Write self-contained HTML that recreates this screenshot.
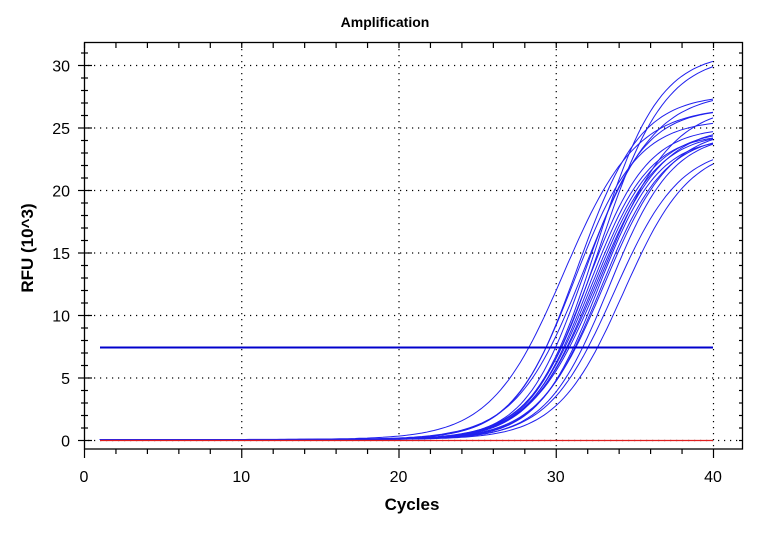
<!DOCTYPE html>
<html><head><meta charset="utf-8"><style>
body{margin:0;background:#fff;width:770px;height:529px;overflow:hidden}
text{font-family:"Liberation Sans",Arial,sans-serif}
</style></head><body>
<svg id="s" width="770" height="529" xmlns="http://www.w3.org/2000/svg">
<rect width="770" height="529" fill="#fff"/>
<text x="385" y="27" text-anchor="middle" font-size="14" font-weight="bold">Amplification</text>
<text x="412" y="510" text-anchor="middle" font-size="17" font-weight="bold">Cycles</text>
<text transform="translate(33,248) rotate(-90)" text-anchor="middle" font-size="17" font-weight="bold">RFU (10^3)</text>
<g id="grid" stroke="#000" stroke-width="1.2" stroke-dasharray="1.2,4.8"></g>
<g id="ticks" stroke="#000" stroke-width="1.2"></g>
<g id="lab" font-size="16"></g>
<g id="curves" fill="none" stroke="#2020ee" stroke-width="1"></g>
<line x1="100" y1="347.5" x2="713" y2="347.5" stroke="#0000cc" stroke-width="2"/>
<line x1="100" y1="440.5" x2="713" y2="440.5" stroke="#e02020" stroke-width="1.2"/>
<rect x="84.5" y="42.5" width="658" height="406.5" fill="none" stroke="#000" stroke-width="1.3"/>
</svg>
<script>
const X=c=>84+c*15.725, Y=v=>440.5-v*12.5;
const ns="http://www.w3.org/2000/svg";
function el(p,t,a,txt){const e=document.createElementNS(ns,t);for(const k in a)e.setAttribute(k,a[k]);if(txt!==undefined)e.textContent=txt;document.getElementById(p).appendChild(e);}
for(let c=10;c<=40;c+=10)el("grid","line",{x1:X(c)+.5,y1:43,x2:X(c)+.5,y2:449});
for(let v=0;v<=30;v+=5)el("grid","line",{x1:88,y1:Y(v),x2:743,y2:Y(v)});
for(let c=0;c<=40;c+=2){const M=c%10==0;el("ticks","line",{x1:X(c)+.5,y1:449,x2:X(c)+.5,y2:M?458:454});el("ticks","line",{x1:X(c)+.5,y1:43,x2:X(c)+.5,y2:48});}
for(let v=0;v<=31;v++){const M=v%5==0;el("ticks","line",{x1:M?78:81,y1:Y(v),x2:M?92:88,y2:Y(v)});el("ticks","line",{x1:743,y1:Y(v),x2:739,y2:Y(v)});}
for(let c=0;c<=40;c+=10)el("lab","text",{x:X(c),y:482,"text-anchor":"middle"},c);
for(let v=0;v<=30;v+=5)el("lab","text",{x:70,y:Y(v)+6,"text-anchor":"end"},v);
const P=[[30.5,26.6,2.3],[32.6,31.0,2.0],[32.8,30.8,2.1],[31.4,27.6,2.0],[31.8,26.5,1.9],[31.9,27.8,2.2],[32.0,25.0,1.9],[32.3,24.8,2.0],[32.1,24.5,1.9],[32.6,25.1,2.1],[32.4,24.6,2.0],[32.9,24.4,2.0],[33.1,24.9,2.1],[32.7,24.2,1.9],[33.4,24.5,2.0],[33.7,23.5,2.1],[34.3,23.5,2.1],[31.2,25.6,2.0],[33.0,26.8,2.2]];
for(const [c0,A,k] of P){let d="";for(let c=1;c<=40;c+=0.25){const v=A/(1+Math.exp(-(c-c0)/k))-A/(1+Math.exp(-(1-c0)/k))+0.08;d+=(d?"L":"M")+X(c).toFixed(1)+","+Y(v).toFixed(1);}el("curves","path",{d});}
</script>
</body></html>
